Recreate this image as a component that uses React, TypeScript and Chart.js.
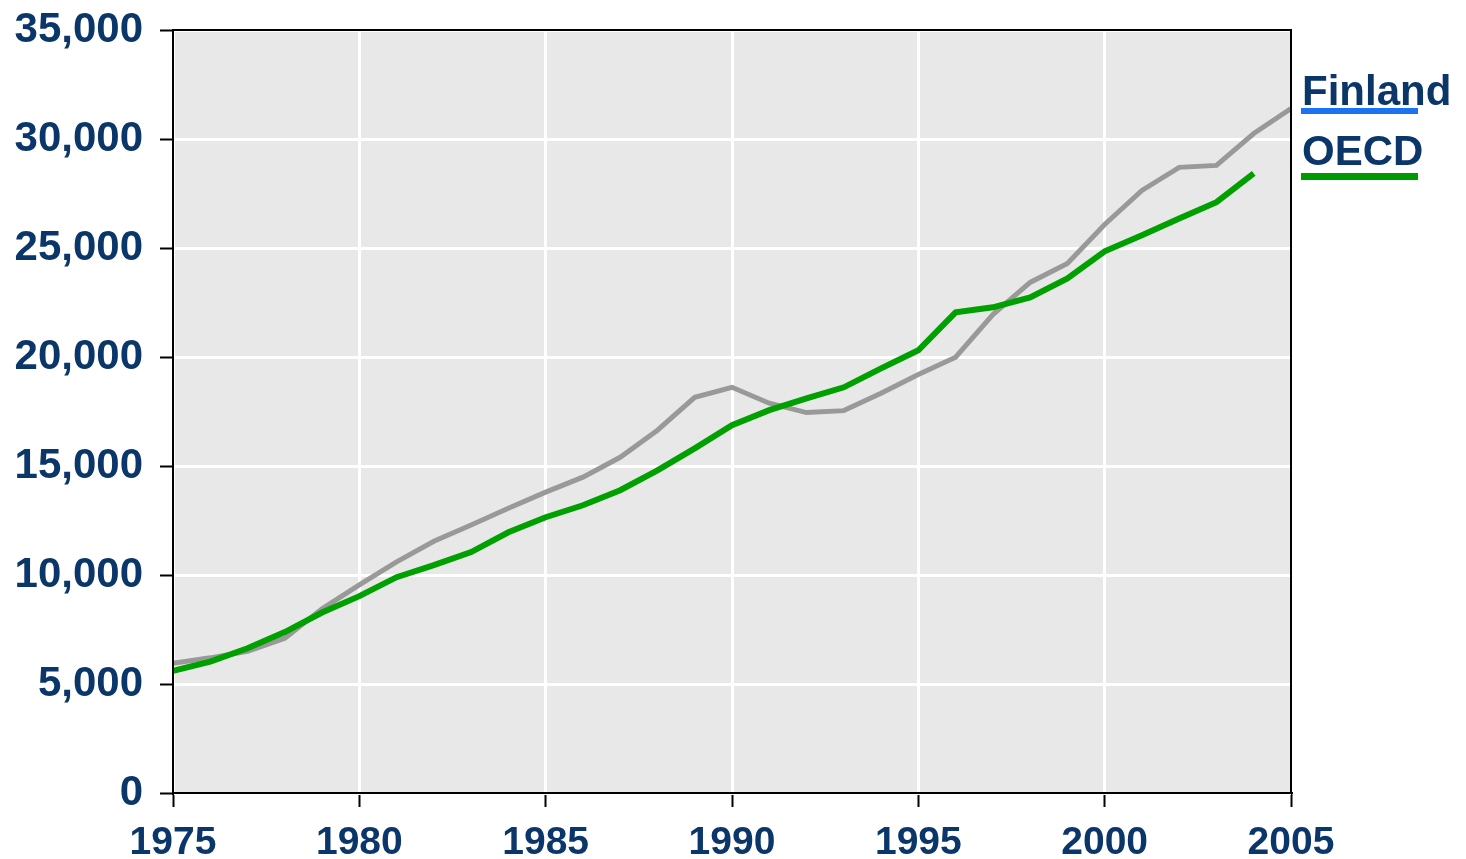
import React, { useEffect, useRef } from "react";
import { Chart, registerables } from "chart.js";

Chart.register(...registerables);

const years: number[] = [
  1975, 1976, 1977, 1978, 1979, 1980, 1981, 1982, 1983, 1984, 1985, 1986, 1987, 1988, 1989,
  1990, 1991, 1992, 1993, 1994, 1995, 1996, 1997, 1998, 1999, 2000, 2001, 2002, 2003, 2004, 2005,
];
const grayValues: (number | null)[] = [
  5950, 6200, 6500, 7100, 8450, 9550, 10600, 11550, 12290, 13060, 13800, 14490, 15400, 16640, 18150,
  18610, 17880, 17450, 17540, 18340, 19200, 19990, 21950, 23420, 24290, 26080, 27640, 28700, 28790, 30250, 31400,
];
const greenValues: (number | null)[] = [
  5600, 6030, 6640, 7380, 8280, 9030, 9900, 10450, 11050, 11960, 12650, 13200, 13890, 14800, 15810,
  16870, 17560, 18100, 18610, 19480, 20310, 22050, 22280, 22730, 23600, 24850, 25580, 26350, 27100, 28420, null,
];
const legendLabels: string[] = ["Finland", "OECD"];
const legendColors: string[] = ["#1a73f0", "#009a00"];

const TEXT = "#0a3669";
const FONT = "'Liberation Sans', Arial, sans-serif";

export default function App() {
  const ref = useRef<HTMLCanvasElement | null>(null);
  useEffect(() => {
    document.body.style.margin = "0";
    const canvas = ref.current!;
    const bgPlugin = {
      id: "bgbox",
      beforeDraw(chart: any) {
        const { ctx, chartArea: a } = chart;
        ctx.save();
        ctx.fillStyle = "#e8e8e8";
        ctx.fillRect(a.left, a.top, a.right - a.left, a.bottom - a.top);
        ctx.restore();
      },
      afterDraw(chart: any) {
        const { ctx, chartArea: a } = chart;
        ctx.save();
        ctx.strokeStyle = "#000";
        ctx.lineWidth = 2;
        ctx.strokeRect(a.left, a.top, a.right - a.left, a.bottom - a.top);
        // legend
        ctx.font = `bold 42px ${FONT}`;
        ctx.textBaseline = "alphabetic";
        ctx.textAlign = "left";
        legendLabels.forEach((lab, i) => {
          const base = 105 + i * 60;
          ctx.fillStyle = TEXT;
          ctx.fillText(lab, 1302, base);
          ctx.fillStyle = legendColors[i];
          ctx.fillRect(1301, base + 3 + i * 5, 117, 6 + i);
        });
        ctx.restore();
      },
    };
    const chart = new Chart(canvas, {
      type: "line",
      data: {
        datasets: [
          {
            label: "OECD",
            data: years.map((y, i) => ({ x: y, y: greenValues[i] })),
            borderColor: "#00a000",
            borderWidth: 6,
            pointRadius: 0,
            tension: 0,
            order: 0,
            spanGaps: false,
          },
          {
            label: "Finland",
            data: years.map((y, i) => ({ x: y, y: grayValues[i] })),
            borderColor: "#999999",
            borderWidth: 5,
            pointRadius: 0,
            tension: 0,
            order: 1,
          },
        ],
      },
      options: {
        responsive: false,
        animation: false,
        layout: { padding: { top: 30, right: 175, left: 0, bottom: 0 } },
        plugins: { legend: { display: false }, tooltip: { enabled: false } },
        scales: {
          x: {
            type: "linear",
            min: 1975,
            max: 2005,
            afterFit: (s: any) => {
              s.height = 66;
              s.paddingLeft = 0;
              s.paddingRight = 0;
            },
            ticks: {
              stepSize: 5,
              color: TEXT,
              font: { family: FONT, size: 39, weight: "bold" },
              padding: 13,
              maxRotation: 0,
              callback: (v: any) => String(v),
            },
            grid: { color: "#ffffff", lineWidth: 3, tickColor: "#000", tickLength: 14, tickWidth: 2 },
            border: { color: "#000", width: 2 },
          },
          y: {
            type: "linear",
            min: 0,
            max: 35000,
            afterFit: (s: any) => {
              s.width = 173;
              s.paddingTop = 0;
              s.paddingBottom = 0;
            },
            ticks: {
              stepSize: 5000,
              color: TEXT,
              font: { family: FONT, size: 42, weight: "bold" },
              padding: 17,
              callback: (v: any) => Number(v).toLocaleString("en-US"),
            },
            grid: { color: "#ffffff", lineWidth: 3, tickColor: "#000", tickLength: 13, tickWidth: 2 },
            border: { color: "#000", width: 2 },
          },
        },
      },
      plugins: [bgPlugin],
    } as any);
    return () => chart.destroy();
  }, []);
  return (
    <div style={{ position: "absolute", left: 0, top: 0, width: 1466, height: 859, background: "#fff" }}>
      <canvas ref={ref} width={1466} height={859} />
    </div>
  );
}
